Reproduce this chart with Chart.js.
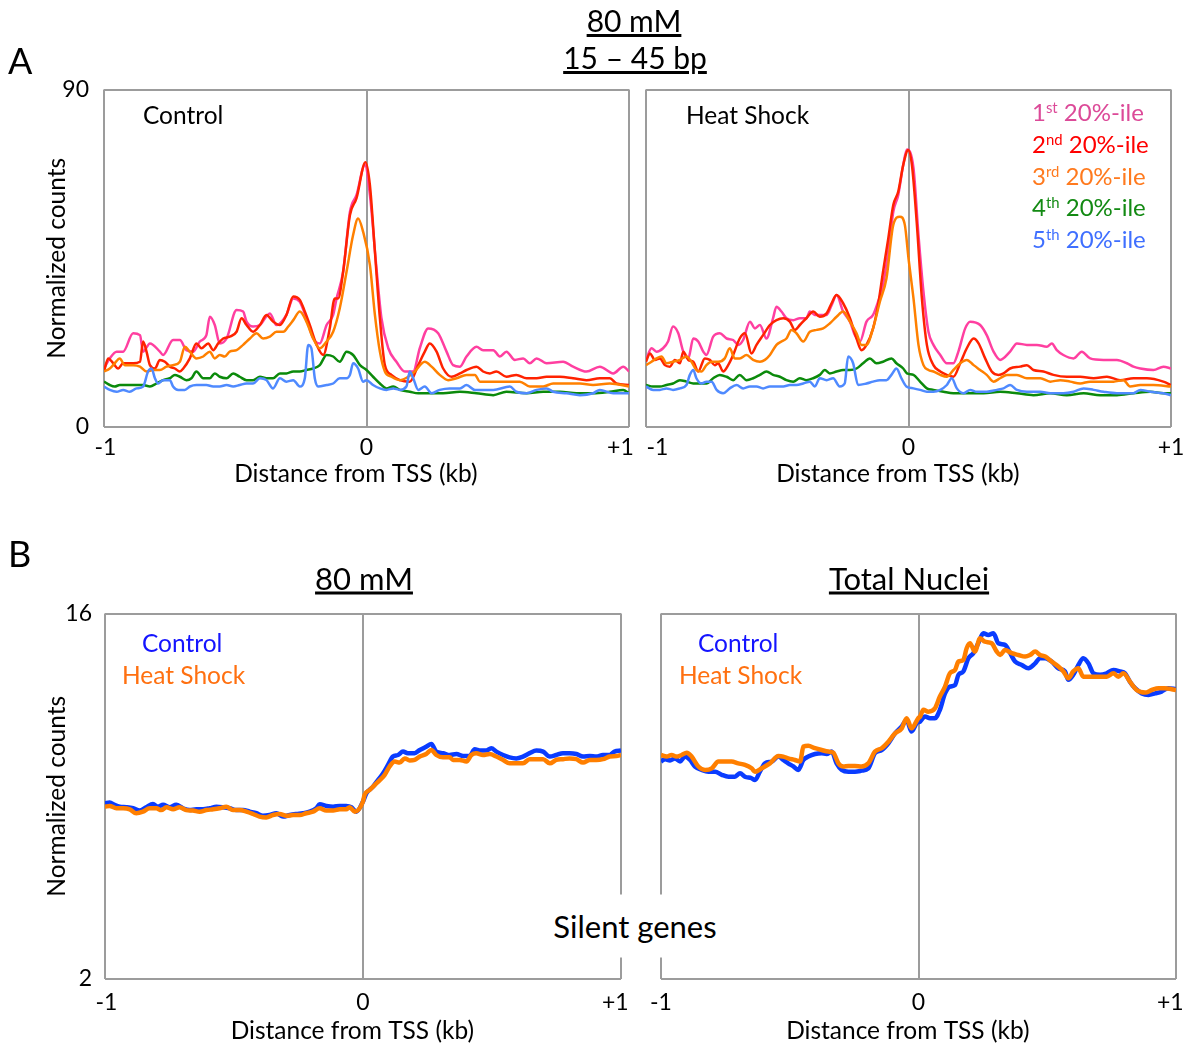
<!DOCTYPE html>
<html><head><meta charset="utf-8">
<script src="https://cdn.jsdelivr.net/npm/chart.js@4.4.1/dist/chart.umd.min.js"></script>
<style>
html,body{margin:0;padding:0;background:#fff;}
#wrap{position:relative;width:1189px;height:1049px;overflow:hidden;font-family:Lato,'Open Sans',sans-serif;color:#000;}
canvas{position:absolute;left:0;top:0;}
.t{position:absolute;white-space:nowrap;line-height:1;}
.c{transform:translate(-50%,-50%);}
.l{transform:translateY(-50%);}
sup{font-size:0.62em;vertical-align:0.55em;line-height:0;}
</style></head><body><div id="wrap">
<canvas id="cA1" width="1189" height="1049"></canvas>
<canvas id="cA2" width="1189" height="1049"></canvas>
<canvas id="cB1" width="1189" height="1049"></canvas>
<canvas id="cB2" width="1189" height="1049"></canvas>

<div class="t l" style="left:8px;top:60px;font-size:36px;">A</div>
<div class="t l" style="left:8px;top:553px;font-size:36px;">B</div>
<div class="t c" style="left:634px;top:20px;font-size:30px;text-decoration:underline;">80 mM</div>
<div class="t c" style="left:635px;top:57px;font-size:30px;text-decoration:underline;">15 – 45 bp</div>

<div class="t l" style="left:143px;top:115px;font-size:24.5px;">Control</div>
<div class="t l" style="left:686px;top:115px;font-size:24.5px;">Heat Shock</div>
<div class="t l" style="left:1032px;top:112px;font-size:24px;color:#dc4a98;">1<sup>st</sup> 20%-ile</div>
<div class="t l" style="left:1032px;top:144px;font-size:24px;color:#ff0000;">2<sup>nd</sup> 20%-ile</div>
<div class="t l" style="left:1032px;top:176px;font-size:24px;color:#ff7a1e;">3<sup>rd</sup> 20%-ile</div>
<div class="t l" style="left:1032px;top:207px;font-size:24px;color:#138a13;">4<sup>th</sup> 20%-ile</div>
<div class="t l" style="left:1032px;top:239px;font-size:24px;color:#3f6fff;">5<sup>th</sup> 20%-ile</div>

<div class="t c" style="left:364px;top:578px;font-size:31px;text-decoration:underline;">80 mM</div>
<div class="t c" style="left:909px;top:578px;font-size:31px;text-decoration:underline;">Total Nuclei</div>
<div class="t l" style="left:142px;top:643px;font-size:24.5px;color:#1414ff;">Control</div>
<div class="t l" style="left:122px;top:675px;font-size:24.5px;color:#ff7010;">Heat Shock</div>
<div class="t l" style="left:698px;top:643px;font-size:24.5px;color:#1414ff;">Control</div>
<div class="t l" style="left:679px;top:675px;font-size:24.5px;color:#ff7010;">Heat Shock</div>
<div class="t c" style="left:635px;top:926px;font-size:31px;background:#fff;padding:16px 10px;">Silent genes</div>
</div>
<script>
// ---------- data (x = distance from TSS in kb, y = normalized counts) ----------
const xTicks = [-1, 0, 1];
const xTickLabels = ['-1', '0', '+1'];
const yTicksA = [0, 90];
const yTicksB = [2, 16];
const xTitle = 'Distance from TSS (kb)';
const yTitle = 'Normalized counts';

const ctrl1st = [[-1.0,15.6],[-0.978,18.3],[-0.952,20.1],[-0.927,20.1],[-0.889,25.0],[-0.863,24.5],[-0.851,20.1],[-0.825,22.3],[-0.787,20.1],[-0.775,19.2],[-0.737,23.2],[-0.711,23.2],[-0.686,20.5],[-0.660,20.1],[-0.635,22.8],[-0.610,24.5],[-0.597,29.4],[-0.578,27.2],[-0.559,22.3],[-0.533,23.6],[-0.495,31.2],[-0.470,30.8],[-0.457,28.1],[-0.432,26.8],[-0.406,27.2],[-0.368,30.3],[-0.343,27.2],[-0.305,29.9],[-0.279,34.3],[-0.254,33.4],[-0.229,29.0],[-0.203,23.6],[-0.178,22.3],[-0.152,27.2],[-0.127,29.9],[-0.114,34.3],[-0.089,41.4],[-0.063,57.4],[-0.038,61.9],[-0.006,69.9],[0.013,61.9],[0.038,42.3],[0.057,29.0],[0.083,21.0],[0.114,17.4],[0.146,14.8],[0.178,14.8],[0.203,21.0],[0.235,26.3],[0.273,25.0],[0.305,20.1],[0.330,16.5],[0.356,16.1],[0.381,18.8],[0.419,21.4],[0.444,20.5],[0.483,20.5],[0.508,18.8],[0.533,20.1],[0.565,17.9],[0.597,18.3],[0.622,17.0],[0.648,18.3],[0.686,17.0],[0.749,17.4],[0.787,16.1],[0.838,14.8],[0.889,16.1],[0.940,14.3],[0.978,16.1],[1.0,14.8]];
const ctrl2nd = [[-1.0,14.8],[-0.984,18.3],[-0.965,17.0],[-0.946,15.6],[-0.927,17.0],[-0.889,17.0],[-0.863,17.4],[-0.851,22.8],[-0.838,20.1],[-0.825,16.5],[-0.806,15.6],[-0.787,17.9],[-0.768,17.4],[-0.749,16.1],[-0.730,15.6],[-0.711,14.8],[-0.698,15.6],[-0.673,18.3],[-0.648,22.3],[-0.629,21.0],[-0.603,22.3],[-0.584,20.5],[-0.565,22.3],[-0.546,23.6],[-0.521,24.1],[-0.495,25.4],[-0.476,29.0],[-0.457,27.2],[-0.432,25.4],[-0.406,27.2],[-0.381,29.9],[-0.356,28.1],[-0.330,27.2],[-0.305,29.9],[-0.279,34.8],[-0.254,33.9],[-0.235,30.8],[-0.216,27.2],[-0.190,21.9],[-0.165,19.2],[-0.140,26.3],[-0.121,34.3],[-0.108,34.3],[-0.089,41.4],[-0.063,56.5],[-0.038,61.0],[-0.004,70.6],[0.013,64.5],[0.032,46.8],[0.051,29.0],[0.070,16.5],[0.095,13.9],[0.127,12.5],[0.165,12.1],[0.197,16.5],[0.222,20.1],[0.241,22.3],[0.267,20.1],[0.292,15.6],[0.324,13.4],[0.356,14.3],[0.381,15.2],[0.419,16.1],[0.444,14.8],[0.470,14.3],[0.495,14.8],[0.533,13.4],[0.571,13.9],[0.610,13.0],[0.648,13.0],[0.686,13.4],[0.737,13.4],[0.787,13.0],[0.838,12.5],[0.889,13.0],[0.927,13.0],[0.952,11.6],[1.0,11.2]];
const ctrl3rd = [[-1.0,14.8],[-0.978,15.6],[-0.959,17.0],[-0.940,18.3],[-0.921,16.5],[-0.889,16.5],[-0.863,16.1],[-0.838,14.8],[-0.813,15.2],[-0.787,15.2],[-0.762,16.1],[-0.737,16.5],[-0.711,17.4],[-0.692,21.4],[-0.673,20.1],[-0.648,18.3],[-0.622,18.8],[-0.597,20.1],[-0.578,18.3],[-0.559,19.2],[-0.540,18.8],[-0.521,20.1],[-0.495,20.5],[-0.470,21.9],[-0.444,23.6],[-0.419,25.0],[-0.394,23.6],[-0.368,24.1],[-0.343,25.4],[-0.317,25.4],[-0.298,26.8],[-0.279,28.5],[-0.254,30.8],[-0.229,28.1],[-0.203,23.6],[-0.178,21.0],[-0.152,22.8],[-0.127,25.4],[-0.102,31.6],[-0.076,41.4],[-0.051,51.2],[-0.032,55.6],[-0.013,52.1],[0.013,43.2],[0.032,29.9],[0.051,20.1],[0.070,14.8],[0.095,13.4],[0.127,12.5],[0.159,13.4],[0.184,14.8],[0.222,17.4],[0.248,16.1],[0.279,13.9],[0.311,12.5],[0.343,13.0],[0.381,13.9],[0.413,13.9],[0.432,12.1],[0.483,12.1],[0.533,12.1],[0.584,12.1],[0.622,10.8],[0.673,10.8],[0.711,11.6],[0.762,11.6],[0.813,11.6],[0.863,11.2],[0.927,11.6],[1.0,10.8]];
const ctrl4th = [[-1.0,12.1],[-0.978,11.2],[-0.959,10.8],[-0.940,11.2],[-0.889,11.2],[-0.851,11.2],[-0.825,10.8],[-0.800,11.6],[-0.775,12.5],[-0.749,13.0],[-0.730,13.9],[-0.711,13.4],[-0.686,12.5],[-0.667,13.0],[-0.648,14.8],[-0.622,13.0],[-0.597,13.0],[-0.578,14.3],[-0.559,13.4],[-0.533,13.0],[-0.508,14.3],[-0.483,13.4],[-0.457,12.5],[-0.432,12.5],[-0.406,13.4],[-0.381,13.0],[-0.356,13.0],[-0.330,14.3],[-0.305,14.3],[-0.279,14.8],[-0.254,14.8],[-0.229,15.2],[-0.203,15.6],[-0.178,16.5],[-0.152,19.2],[-0.127,18.8],[-0.102,17.4],[-0.076,20.1],[-0.051,19.2],[-0.025,16.5],[0.0,15.2],[0.025,13.4],[0.051,11.6],[0.076,10.3],[0.102,10.8],[0.127,9.9],[0.165,9.4],[0.197,9.0],[0.292,9.0],[0.356,9.4],[0.419,9.0],[0.483,8.5],[0.533,9.4],[0.610,9.0],[0.673,9.4],[0.737,9.4],[0.800,9.0],[0.863,9.0],[0.927,9.4],[0.978,9.9],[1.0,9.0]];
const ctrl5th = [[-1.0,10.8],[-0.978,9.9],[-0.952,9.4],[-0.927,9.9],[-0.902,9.4],[-0.876,10.3],[-0.851,10.8],[-0.832,14.8],[-0.819,15.6],[-0.806,13.0],[-0.794,11.6],[-0.775,12.5],[-0.749,12.5],[-0.737,10.8],[-0.717,9.9],[-0.692,9.9],[-0.673,10.8],[-0.648,11.2],[-0.610,11.2],[-0.584,10.8],[-0.559,10.8],[-0.533,11.2],[-0.508,10.8],[-0.483,11.2],[-0.457,11.6],[-0.432,11.6],[-0.406,13.0],[-0.381,12.5],[-0.356,10.3],[-0.330,13.0],[-0.305,12.1],[-0.279,12.5],[-0.254,10.8],[-0.235,13.0],[-0.222,21.9],[-0.210,21.0],[-0.197,13.0],[-0.184,10.8],[-0.152,11.2],[-0.127,11.6],[-0.102,13.0],[-0.076,13.0],[-0.063,13.9],[-0.051,17.0],[-0.032,15.6],[-0.013,12.1],[0.0,12.5],[0.025,11.2],[0.051,10.3],[0.076,9.9],[0.102,10.3],[0.127,9.9],[0.152,10.8],[0.165,14.8],[0.178,13.0],[0.197,9.9],[0.222,10.8],[0.248,9.0],[0.279,9.9],[0.317,10.3],[0.356,10.3],[0.381,11.2],[0.413,9.9],[0.483,9.9],[0.546,10.8],[0.571,9.4],[0.610,9.0],[0.648,9.9],[0.686,10.3],[0.711,9.4],[0.762,9.0],[0.813,8.5],[0.863,9.0],[0.889,9.9],[0.940,9.0],[1.0,9.0]];

const hs1st = [[-1.0,17.9],[-0.979,21.0],[-0.960,20.1],[-0.935,21.0],[-0.916,22.8],[-0.897,26.8],[-0.877,25.0],[-0.858,20.1],[-0.839,18.3],[-0.820,23.6],[-0.801,22.8],[-0.782,20.1],[-0.770,19.2],[-0.744,24.1],[-0.719,25.0],[-0.693,23.6],[-0.668,23.2],[-0.649,21.9],[-0.630,23.2],[-0.604,28.1],[-0.585,26.3],[-0.566,27.2],[-0.541,23.6],[-0.516,29.0],[-0.503,32.1],[-0.484,30.8],[-0.465,29.0],[-0.439,28.5],[-0.414,29.0],[-0.389,29.0],[-0.376,30.8],[-0.357,29.9],[-0.331,29.9],[-0.312,29.9],[-0.293,32.5],[-0.274,35.2],[-0.249,30.8],[-0.223,28.1],[-0.204,24.5],[-0.185,22.8],[-0.160,28.1],[-0.135,29.9],[-0.116,33.4],[-0.097,37.9],[-0.077,46.8],[-0.058,57.4],[-0.039,61.9],[-0.020,69.9],[-0.006,74.0],[0.019,69.0],[0.038,51.2],[0.057,36.1],[0.076,25.4],[0.095,21.9],[0.121,19.2],[0.146,17.0],[0.171,17.0],[0.190,20.1],[0.216,26.3],[0.235,28.1],[0.273,27.2],[0.298,24.5],[0.324,20.1],[0.349,17.9],[0.387,20.1],[0.413,22.3],[0.451,21.9],[0.489,21.9],[0.527,21.4],[0.546,22.3],[0.565,20.5],[0.590,19.2],[0.629,18.3],[0.660,20.1],[0.692,18.3],[0.743,17.9],[0.794,17.9],[0.832,17.0],[0.857,16.1],[0.883,15.6],[0.933,15.2],[0.971,16.1],[1.0,15.6]];
const hs2nd = [[-1.0,17.4],[-0.985,19.6],[-0.966,17.9],[-0.947,18.3],[-0.928,16.5],[-0.909,16.1],[-0.890,17.9],[-0.871,17.0],[-0.858,20.1],[-0.839,17.9],[-0.820,17.4],[-0.801,14.8],[-0.776,18.3],[-0.757,17.9],[-0.738,16.5],[-0.725,17.0],[-0.706,14.8],[-0.687,16.5],[-0.668,19.2],[-0.643,23.6],[-0.623,25.0],[-0.598,19.6],[-0.579,21.9],[-0.554,24.5],[-0.528,27.2],[-0.503,28.5],[-0.477,29.0],[-0.452,28.1],[-0.433,25.9],[-0.414,27.2],[-0.389,29.0],[-0.363,30.8],[-0.338,29.4],[-0.312,30.3],[-0.293,33.0],[-0.274,35.2],[-0.249,33.0],[-0.223,29.0],[-0.198,23.6],[-0.179,20.5],[-0.160,21.9],[-0.135,26.3],[-0.116,32.5],[-0.097,41.4],[-0.077,50.3],[-0.058,59.2],[-0.039,62.8],[-0.020,69.9],[-0.001,73.9],[0.013,69.9],[0.032,53.9],[0.051,34.3],[0.070,21.9],[0.095,16.5],[0.121,14.8],[0.146,13.9],[0.171,13.4],[0.197,17.0],[0.222,21.0],[0.248,23.6],[0.267,22.3],[0.292,18.3],[0.317,14.8],[0.343,13.9],[0.362,14.3],[0.387,15.6],[0.425,16.1],[0.451,16.5],[0.476,15.2],[0.514,14.8],[0.552,13.9],[0.603,13.4],[0.654,13.4],[0.705,13.0],[0.756,13.4],[0.806,12.5],[0.857,13.0],[0.908,13.0],[0.971,12.1],[1.0,11.2]];
const hs3rd = [[-1.0,16.5],[-0.979,17.4],[-0.960,18.3],[-0.941,18.8],[-0.922,17.0],[-0.897,17.4],[-0.871,17.9],[-0.846,18.8],[-0.827,17.4],[-0.808,15.2],[-0.789,14.8],[-0.770,16.5],[-0.750,17.4],[-0.725,17.4],[-0.700,18.3],[-0.681,21.0],[-0.662,18.3],[-0.643,18.3],[-0.617,19.2],[-0.592,17.9],[-0.566,17.4],[-0.547,17.9],[-0.528,19.2],[-0.503,21.9],[-0.484,22.8],[-0.465,23.6],[-0.446,25.9],[-0.427,25.0],[-0.401,22.8],[-0.376,25.4],[-0.350,25.9],[-0.325,26.3],[-0.300,27.6],[-0.274,29.4],[-0.249,30.8],[-0.223,28.1],[-0.198,25.0],[-0.179,21.9],[-0.160,21.9],[-0.135,26.3],[-0.109,33.4],[-0.084,39.6],[-0.058,53.9],[-0.033,56.1],[-0.014,53.9],[0.0,45.0],[0.019,34.3],[0.038,21.9],[0.057,16.5],[0.076,15.2],[0.095,14.8],[0.121,13.9],[0.146,13.4],[0.171,15.2],[0.197,17.0],[0.222,17.9],[0.248,16.5],[0.273,15.2],[0.298,13.9],[0.324,12.1],[0.349,13.0],[0.375,13.9],[0.413,13.9],[0.451,13.0],[0.502,13.0],[0.540,12.1],[0.578,12.5],[0.616,12.1],[0.654,11.6],[0.692,12.1],[0.730,12.1],[0.781,12.1],[0.819,12.5],[0.844,10.8],[0.883,11.2],[0.933,11.2],[1.0,10.8]];
const hs4th = [[-1.0,11.2],[-0.973,10.8],[-0.947,10.8],[-0.922,11.2],[-0.897,11.6],[-0.871,12.5],[-0.846,12.1],[-0.820,11.6],[-0.795,11.6],[-0.770,11.6],[-0.744,13.0],[-0.719,13.9],[-0.693,13.4],[-0.668,12.5],[-0.643,13.9],[-0.617,12.5],[-0.592,13.0],[-0.566,13.9],[-0.541,14.8],[-0.516,13.9],[-0.490,13.4],[-0.465,12.5],[-0.439,12.1],[-0.414,13.0],[-0.389,12.5],[-0.363,13.0],[-0.338,13.9],[-0.319,15.2],[-0.300,14.3],[-0.274,14.8],[-0.249,15.2],[-0.223,15.2],[-0.198,15.6],[-0.173,17.0],[-0.147,18.3],[-0.122,17.0],[-0.097,17.4],[-0.065,18.3],[-0.046,17.0],[-0.020,15.6],[-0.006,14.3],[0.019,13.9],[0.044,12.1],[0.070,10.3],[0.095,9.9],[0.133,9.4],[0.171,9.0],[0.286,9.0],[0.349,9.4],[0.413,9.0],[0.476,8.5],[0.540,9.0],[0.603,8.5],[0.667,9.0],[0.730,8.5],[0.794,8.5],[0.857,9.0],[0.921,9.4],[0.971,9.0],[1.0,9.0]];
const hs5th = [[-1.0,10.8],[-0.973,9.9],[-0.947,9.9],[-0.922,10.3],[-0.897,9.9],[-0.871,10.3],[-0.846,11.2],[-0.833,13.9],[-0.820,15.2],[-0.808,13.0],[-0.789,11.6],[-0.770,12.1],[-0.750,12.1],[-0.731,9.9],[-0.706,9.0],[-0.681,10.3],[-0.655,11.2],[-0.630,10.3],[-0.604,10.8],[-0.579,10.8],[-0.554,10.3],[-0.528,10.8],[-0.503,10.8],[-0.477,10.8],[-0.452,11.2],[-0.427,11.2],[-0.401,11.6],[-0.376,12.1],[-0.357,10.8],[-0.338,13.0],[-0.312,12.5],[-0.287,13.0],[-0.262,10.8],[-0.243,11.6],[-0.230,18.8],[-0.211,17.0],[-0.192,11.2],[-0.160,11.6],[-0.135,12.1],[-0.109,12.5],[-0.084,12.5],[-0.065,13.9],[-0.046,15.6],[-0.027,13.0],[-0.008,10.8],[0.019,10.3],[0.044,9.9],[0.070,9.4],[0.095,9.4],[0.121,9.9],[0.146,11.2],[0.165,13.0],[0.184,10.3],[0.210,9.0],[0.235,9.9],[0.260,9.4],[0.298,9.4],[0.337,9.9],[0.362,10.3],[0.387,11.2],[0.413,9.9],[0.451,9.4],[0.502,9.4],[0.540,9.0],[0.590,9.0],[0.629,9.4],[0.667,10.3],[0.705,9.9],[0.743,9.4],[0.794,9.0],[0.857,9.0],[0.883,9.9],[0.921,9.4],[0.971,9.0],[1.0,8.5]];

const mM80Control = [[-1.0,8.73],[-0.982,8.76],[-0.963,8.67],[-0.943,8.60],[-0.917,8.58],[-0.891,8.54],[-0.866,8.45],[-0.840,8.58],[-0.814,8.70],[-0.795,8.60],[-0.775,8.67],[-0.749,8.58],[-0.724,8.67],[-0.698,8.54],[-0.672,8.47],[-0.646,8.50],[-0.620,8.50],[-0.594,8.54],[-0.568,8.60],[-0.543,8.58],[-0.517,8.54],[-0.491,8.47],[-0.465,8.47],[-0.439,8.41],[-0.413,8.35],[-0.388,8.25],[-0.362,8.28],[-0.336,8.35],[-0.310,8.22],[-0.284,8.28],[-0.258,8.32],[-0.233,8.35],[-0.207,8.41],[-0.181,8.54],[-0.168,8.69],[-0.142,8.63],[-0.116,8.60],[-0.090,8.63],[-0.065,8.63],[-0.045,8.58],[-0.026,8.41],[0.0,8.80],[0.013,9.11],[0.039,9.37],[0.058,9.62],[0.078,9.88],[0.097,10.20],[0.116,10.52],[0.136,10.58],[0.155,10.71],[0.174,10.65],[0.200,10.65],[0.220,10.77],[0.245,10.90],[0.265,11.00],[0.284,10.71],[0.310,10.65],[0.336,10.58],[0.362,10.62],[0.388,10.54],[0.413,10.54],[0.433,10.80],[0.452,10.75],[0.478,10.75],[0.497,10.84],[0.517,10.71],[0.543,10.58],[0.568,10.49],[0.594,10.45],[0.620,10.52],[0.646,10.65],[0.672,10.75],[0.698,10.71],[0.724,10.52],[0.749,10.58],[0.775,10.65],[0.801,10.65],[0.827,10.62],[0.853,10.52],[0.879,10.54],[0.904,10.52],[0.930,10.58],[0.956,10.58],[0.975,10.71],[1.0,10.75]];
const mM80Heat = [[-1.0,8.60],[-0.982,8.63],[-0.956,8.54],[-0.930,8.54],[-0.904,8.50],[-0.879,8.35],[-0.853,8.41],[-0.827,8.54],[-0.801,8.54],[-0.782,8.47],[-0.762,8.58],[-0.736,8.50],[-0.711,8.58],[-0.685,8.47],[-0.659,8.45],[-0.633,8.41],[-0.607,8.47],[-0.581,8.50],[-0.556,8.54],[-0.530,8.60],[-0.504,8.47],[-0.478,8.47],[-0.452,8.41],[-0.426,8.32],[-0.401,8.22],[-0.375,8.19],[-0.349,8.28],[-0.323,8.32],[-0.297,8.25],[-0.271,8.28],[-0.245,8.28],[-0.220,8.35],[-0.194,8.41],[-0.168,8.54],[-0.142,8.45],[-0.116,8.45],[-0.090,8.50],[-0.065,8.50],[-0.052,8.58],[-0.032,8.41],[0.0,8.80],[0.006,9.05],[0.026,9.24],[0.045,9.43],[0.065,9.62],[0.084,9.82],[0.103,10.14],[0.123,10.33],[0.142,10.29],[0.162,10.45],[0.181,10.37],[0.200,10.39],[0.220,10.52],[0.245,10.62],[0.265,10.77],[0.284,10.58],[0.310,10.49],[0.336,10.49],[0.349,10.39],[0.375,10.39],[0.401,10.33],[0.420,10.58],[0.439,10.65],[0.465,10.58],[0.491,10.62],[0.517,10.52],[0.543,10.39],[0.568,10.26],[0.594,10.26],[0.620,10.26],[0.646,10.42],[0.672,10.42],[0.698,10.42],[0.724,10.26],[0.749,10.39],[0.775,10.42],[0.801,10.45],[0.827,10.42],[0.853,10.29],[0.879,10.39],[0.904,10.39],[0.930,10.42],[0.956,10.52],[0.982,10.54],[1.0,10.58]];
const totalControl = [[-1.0,10.33],[-0.984,10.42],[-0.965,10.37],[-0.946,10.45],[-0.926,10.33],[-0.907,10.52],[-0.887,10.39],[-0.868,10.14],[-0.842,10.01],[-0.816,9.94],[-0.790,9.94],[-0.764,9.82],[-0.738,9.75],[-0.713,9.75],[-0.693,9.88],[-0.674,9.75],[-0.648,9.69],[-0.635,9.62],[-0.616,9.94],[-0.596,10.26],[-0.570,10.33],[-0.544,10.52],[-0.525,10.39],[-0.506,10.26],[-0.486,10.14],[-0.467,10.01],[-0.447,10.39],[-0.428,10.52],[-0.402,10.62],[-0.376,10.65],[-0.357,10.62],[-0.337,10.71],[-0.318,10.26],[-0.298,10.01],[-0.272,9.94],[-0.247,9.94],[-0.221,9.98],[-0.195,10.07],[-0.169,10.65],[-0.143,10.77],[-0.117,11.03],[-0.091,11.41],[-0.065,11.67],[-0.046,11.92],[-0.027,11.48],[-0.007,11.80],[0.006,11.86],[0.025,12.05],[0.045,11.99],[0.064,11.99],[0.083,12.31],[0.103,12.94],[0.122,13.20],[0.142,13.26],[0.155,13.65],[0.174,13.78],[0.194,14.29],[0.213,14.48],[0.232,14.86],[0.252,15.24],[0.271,15.18],[0.291,15.24],[0.310,14.86],[0.336,14.80],[0.356,14.48],[0.375,14.16],[0.401,14.03],[0.427,13.90],[0.453,14.09],[0.472,14.29],[0.492,14.29],[0.517,14.16],[0.543,13.90],[0.569,13.78],[0.582,13.46],[0.601,13.65],[0.621,14.03],[0.640,14.29],[0.660,14.09],[0.679,13.71],[0.705,13.65],[0.731,13.71],[0.757,13.84],[0.783,13.78],[0.802,13.71],[0.821,13.39],[0.841,13.14],[0.867,12.94],[0.893,12.88],[0.919,12.94],[0.944,13.01],[0.970,13.14],[1.0,13.10]];
const totalHeat = [[-1.0,10.58],[-0.978,10.52],[-0.959,10.58],[-0.940,10.52],[-0.920,10.58],[-0.900,10.67],[-0.881,10.52],[-0.855,10.14],[-0.829,10.01],[-0.803,10.07],[-0.777,10.33],[-0.751,10.33],[-0.726,10.33],[-0.700,10.26],[-0.674,10.20],[-0.648,10.07],[-0.635,9.94],[-0.609,10.07],[-0.577,10.26],[-0.544,10.54],[-0.525,10.52],[-0.506,10.45],[-0.480,10.39],[-0.460,10.33],[-0.447,10.90],[-0.428,10.93],[-0.402,10.84],[-0.376,10.77],[-0.350,10.71],[-0.331,10.67],[-0.311,10.26],[-0.292,10.14],[-0.272,10.16],[-0.247,10.16],[-0.221,10.14],[-0.195,10.26],[-0.169,10.71],[-0.143,10.84],[-0.117,11.09],[-0.091,11.41],[-0.065,11.60],[-0.046,11.99],[-0.027,11.60],[-0.001,11.99],[0.006,12.05],[0.019,12.31],[0.038,12.24],[0.064,12.37],[0.083,12.82],[0.103,13.20],[0.122,13.71],[0.142,13.84],[0.155,14.16],[0.174,14.22],[0.187,14.67],[0.200,14.86],[0.219,14.54],[0.239,15.05],[0.258,14.92],[0.284,14.86],[0.304,14.54],[0.317,14.41],[0.336,14.60],[0.362,14.48],[0.388,14.41],[0.414,14.35],[0.433,14.41],[0.453,14.54],[0.472,14.41],[0.492,14.35],[0.517,14.16],[0.543,13.97],[0.563,13.78],[0.582,13.52],[0.601,13.78],[0.621,13.90],[0.640,13.58],[0.666,13.58],[0.698,13.58],[0.731,13.58],[0.757,13.71],[0.776,13.58],[0.796,13.71],[0.821,13.39],[0.847,13.07],[0.880,12.97],[0.906,13.07],[0.932,13.14],[0.957,13.14],[0.983,13.10],[1.0,13.07]];

// ---------- styling ----------
const FONT = 'Lato, "Open Sans", sans-serif';
const GRID = '#9c9c9c';
const COL = { p1:'#ff3fa0', p2:'#ff2200', p3:'#ff8000', p4:'#0b8a0b', p5:'#4f8aff', ctl:'#0a3cff', hs:'#ff7f00' };
// trailing spaces nudge the centred axis title slightly left, as in the original figure
const xTitleShown = xTitle + '\u2003\u2009';

function ds(pts, color, w) {
  return { data: pts.map(([x, y]) => ({ x, y })), borderColor: color, borderWidth: w,
           fill: false, pointRadius: 0, cubicInterpolationMode: 'monotone' };
}

function panel(id, datasets, o) {
  return new Chart(document.getElementById(id), {
    type: 'line',
    data: { datasets },
    options: {
      responsive: false, animation: false, devicePixelRatio: 1,
      layout: { padding: o.pad },
      plugins: { legend: { display: false }, tooltip: { enabled: false } },
      scales: {
        x: {
          type: 'linear', min: -1, max: 1,
          afterBuildTicks: s => { s.ticks = xTicks.map(v => ({ value: v })); },
          ticks: { padding: o.xTickPad, color: '#000', font: { family: FONT, size: 23 },
                   maxRotation: 0, autoSkip: false,
                   callback: (v, i) => (o.xLabels || xTickLabels)[i] },
          grid: { color: GRID, lineWidth: 2, drawTicks: false },
          border: { display: false },
          title: { display: true, text: xTitleShown, color: '#000', font: { family: FONT, size: 24.5 },
                   padding: { top: 0, bottom: 0 } },
          afterFit: s => { s.height = o.xH; s.paddingLeft = 0; s.paddingRight = 0; }
        },
        y: {
          type: 'linear', min: o.yTicks[0], max: o.yTicks[o.yTicks.length - 1],
          afterBuildTicks: s => { s.ticks = o.yTicks.map(v => ({ value: v })); },
          ticks: { display: o.showY, padding: o.yTickPad, color: '#000', font: { family: FONT, size: 23 } },
          grid: { color: GRID, lineWidth: 2, drawTicks: false },
          border: { display: false },
          title: { display: o.showY, text: yTitle, color: '#000', font: { family: FONT, size: 24.5 },
                   padding: { top: 42, bottom: 0 } },
          afterFit: s => { s.width = o.yW; s.paddingTop = 0; s.paddingBottom = 0; }
        }
      }
    }
  });
}

const wA = 2.5, wB = 4.5;
panel('cA1', [ds(ctrl5th, COL.p5, wA), ds(ctrl4th, COL.p4, wA), ds(ctrl3rd, COL.p3, wA), ds(ctrl2nd, COL.p2, wA), ds(ctrl1st, COL.p1, wA)],
  { pad: { left: 0, top: 89.5, right: 560, bottom: 560 }, yW: 104, xH: 62, xTickPad: 7, yTickPad: 15, yTicks: yTicksA, showY: true,
    xLabels: ['\u2009-1', '0', '+1\u2003'] });
panel('cA2', [ds(hs5th, COL.p5, wA), ds(hs4th, COL.p4, wA), ds(hs3rd, COL.p3, wA), ds(hs2nd, COL.p2, wA), ds(hs1st, COL.p1, wA)],
  { pad: { left: 646, top: 89.5, right: 18, bottom: 560 }, yW: 0, xH: 62, xTickPad: 7, yTickPad: 15, yTicks: yTicksA, showY: false,
    xLabels: ['\u2002\u2002-1', '0', '+1'] });
panel('cB1', [ds(mM80Heat, COL.hs, wB), ds(mM80Control, COL.ctl, wB)],
  { pad: { left: 0, top: 613.5, right: 568, bottom: 3 }, yW: 105, xH: 67, xTickPad: 10, yTickPad: 13, yTicks: yTicksB, showY: true,
    xLabels: ['\u2009-1', '0', '+1\u2002'] });
panel('cB2', [ds(totalHeat, COL.hs, wB), ds(totalControl, COL.ctl, wB)],
  { pad: { left: 661, top: 613.5, right: 13, bottom: 3 }, yW: 0, xH: 67, xTickPad: 10, yTickPad: 13, yTicks: yTicksB, showY: false,
    xLabels: ['-1', '0', '+1\u2002'] });
</script>
</body></html>
